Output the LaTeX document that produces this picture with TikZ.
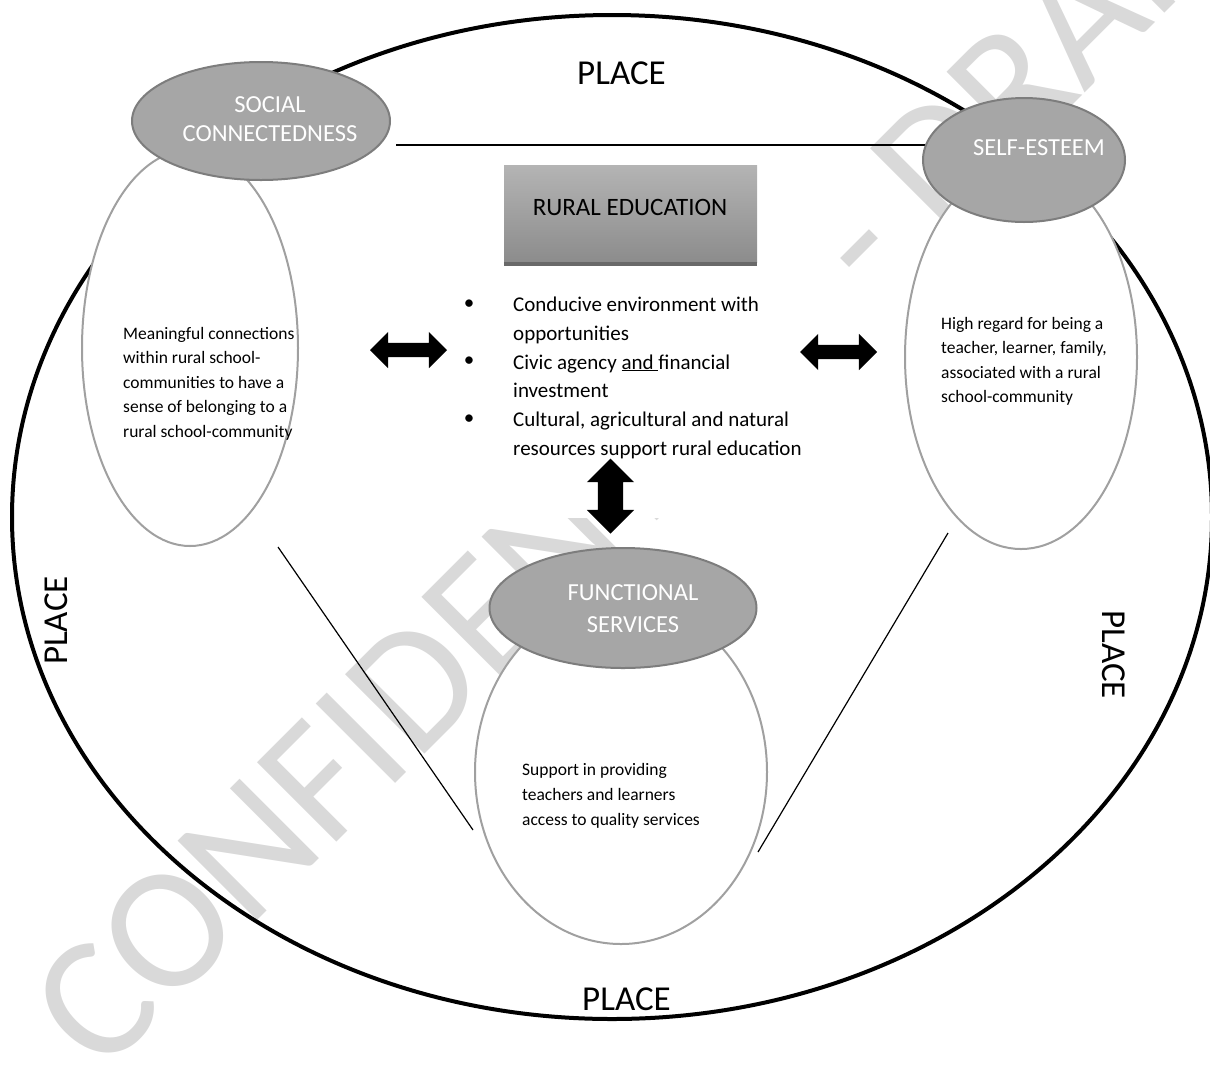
\documentclass[tikz,border=0pt]{standalone}
\usepackage{fontspec}
\setmainfont{Carlito}
\usetikzlibrary{shapes.geometric,shapes.arrows}
\definecolor{wmgray}{RGB}{217,217,217}
\definecolor{ovalfill}{RGB}{166,166,166}
\definecolor{ovalline}{RGB}{125,125,125}
\definecolor{innerline}{RGB}{160,160,160}
\definecolor{boxtop}{RGB}{180,180,180}
\definecolor{boxbot}{RGB}{140,140,140}
\definecolor{boxshadow}{RGB}{105,105,105}
\begin{document}
\begin{tikzpicture}[x=1pt,y=-1pt,
  outerline/.style={line width=4pt, black},
  innerov/.style={ellipse, draw=innerline, line width=2pt, fill=white, inner sep=0pt},
  grayov/.style={ellipse, draw=ovalline, line width=2pt, fill=ovalfill, inner sep=0pt},
  ovaltext/.style={text=white, font=\fontsize{24.5}{29}\selectfont, inner sep=0pt, anchor=base},
  bodytext/.style={font=\fontsize{17.5}{24.6}\selectfont, inner sep=0pt, anchor=base west},
  bullettext/.style={font=\fontsize{21}{28.7}\selectfont, inner sep=0pt, anchor=base west},
  bulletdot/.style={font=\fontsize{21}{28.7}\selectfont, inner sep=0pt},
  placetext/.style={font=\fontsize{35}{40}\selectfont, inner sep=0pt, anchor=base west},
  conn/.style={line width=1.2pt, black},
  hdblarrow/.style={double arrow, fill=black, draw=none, minimum height=77pt, inner xsep=0pt, inner ysep=7pt, double arrow head extend=11pt},
  vdblarrow/.style={double arrow, fill=black, draw=none, minimum height=75pt, inner xsep=0pt, inner ysep=12.5pt, double arrow head extend=11pt},
  watermark/.style={text=wmgray, font=\fontsize{175}{175}\selectfont, inner sep=0pt}
]
\useasboundingbox (0,0) rectangle (1210,1077);

% watermark
\node[watermark, rotate=45] (wm) at (648,451) {CONFIDENTIAL - DRAFT};

% outer PLACE ellipse
\draw[outerline] (612,517) ellipse [x radius=600, y radius=502];

% white text box behind the list
\node[rectangle, fill=white, draw=none, minimum width=453pt, minimum height=240pt, inner sep=0pt] (listbox) at (678.5,398) {};

% connectors
\coordinate (hA) at (396,145);
\coordinate (hB) at (925,145);
\coordinate (dA) at (278,547);
\coordinate (dB) at (473,830);
\coordinate (eA) at (948,533);
\coordinate (eB) at (758,852);
\draw[conn] (hA) -- (hB);
\draw[conn] (dA) -- (dB);
\draw[conn] (eA) -- (eB);

% inner white ellipses
\node[innerov, minimum width=216pt, minimum height=396pt] (leftov) at (190,348) {};
\node[innerov, minimum width=232pt, minimum height=384pt] (rightov) at (1021,357) {};
\node[innerov, minimum width=292pt, minimum height=344pt] (botov) at (621,772) {};

% gray ellipses
\node[grayov, minimum width=258pt, minimum height=118pt] (social) at (261,121) {};
\node[grayov, minimum width=202pt, minimum height=124pt] (selfe) at (1024,160) {};
\node[grayov, minimum width=267pt, minimum height=120pt] (func) at (623,608) {};

\node[ovaltext] (socialt) at (270,112) {\begin{tabular}[t]{@{}c@{}}SOCIAL\\CONNECTEDNESS\end{tabular}};
\node[ovaltext] (selfet) at (1039,155) {SELF-ESTEEM};
\node[ovaltext, font=\fontsize{24.5}{32}\selectfont] (funct) at (633,600) {\begin{tabular}[t]{@{}c@{}}FUNCTIONAL\\SERVICES\end{tabular}};

% rural education box
\node[rectangle, top color=boxtop, bottom color=boxbot, draw=none, minimum width=253pt, minimum height=97pt, inner sep=0pt] (rebox) at (630.5,213.5) {};
\draw[line width=4pt, boxshadow] ([yshift=-2pt]rebox.south west) -- ([yshift=-2pt]rebox.south east);
\node[font=\fontsize{25}{30}\selectfont, inner sep=0pt, anchor=base] (retext) at (630,215) {RURAL EDUCATION};

% bullets
\node[bulletdot] (b1) at (469,305) {\textbullet};
\node[bulletdot] (b2) at (469,362) {\textbullet};
\node[bulletdot] (b3) at (469,419.5) {\textbullet};
\node[bullettext] (blist) at (513,311.7) {\begin{tabular}[t]{@{}l@{}}Conducive environment with\\opportunities\\Civic agency \underline{and }financial\\investment\\Cultural, agricultural and natural\\resources support rural education\end{tabular}};

% double arrows
\node[hdblarrow] (arrL) at (408.5,350) {};
\node[hdblarrow] (arrR) at (838.5,352) {};
\node[vdblarrow, rotate=90] (arrV) at (610.5,496) {};

% body texts
\node[bodytext] (lefttext) at (123,339) {\begin{tabular}[t]{@{}l@{}}Meaningful connections\\within rural school-\\communities to have a\\sense of belonging to a\\rural school-community\end{tabular}};
\node[bodytext] (righttext) at (941,329) {\begin{tabular}[t]{@{}l@{}}High regard for being a\\teacher, learner, family,\\associated with a rural\\school-community\end{tabular}};
\node[bodytext, font=\fontsize{17.5}{25}\selectfont] (bottext) at (522,775) {\begin{tabular}[t]{@{}l@{}}Support in providing\\teachers and learners\\access to quality services\end{tabular}};

% PLACE labels
\node[placetext] (ptop) at (577,84) {PLACE};
\node[placetext] (pbot) at (582,1010) {PLACE};
\node[placetext, rotate=90] (pleft) at (67,665) {PLACE};
\node[placetext, rotate=-90] (pright) at (1102,610) {PLACE};
\end{tikzpicture}
\end{document}
